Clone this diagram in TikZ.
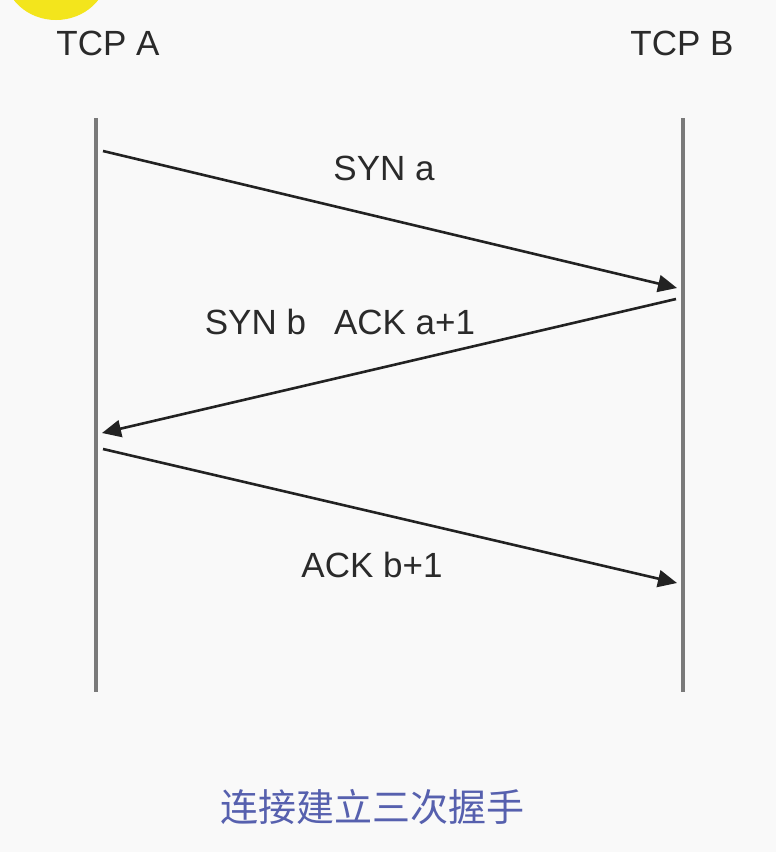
\documentclass[tikz,border=0pt]{standalone}
\usepackage{fontspec}
\setmainfont{Liberation Sans}
\newfontfamily\cjk{Noto Sans CJK SC}
\usetikzlibrary{arrows.meta}
\definecolor{bgc}{HTML}{F9F9F9}
\definecolor{lifec}{HTML}{7A7A7A}
\definecolor{msgc}{HTML}{222222}
\definecolor{yel}{HTML}{F3E51C}
\definecolor{capc}{HTML}{5660AE}
\definecolor{txtc}{HTML}{2A2A2A}
\tikzset{
  lifeline/.style={draw=lifec, line width=4pt},
  msg/.style={draw=msgc, line width=2.6pt, -{Triangle[length=19pt,width=17pt]}},
  lbl/.style={text=txtc, font=\fontsize{35}{38}\selectfont, inner sep=0pt},
}
\begin{document}
\begin{tikzpicture}[x=1pt,y=-1pt]
\fill[bgc] (0,0) rectangle (776,852);
\useasboundingbox (0,0) rectangle (776,852);
\begin{scope}
\clip (0,0) rectangle (776,852);
\fill[yel] (56,-28) ellipse [x radius=52, y radius=48];
\end{scope}
% headers
\node[lbl] (ta) at (108,43) {TCP A};
\node[lbl] (tb) at (682,43) {TCP B};
% lifelines
\coordinate (a0) at (96,118);
\coordinate (a1) at (96,692);
\coordinate (b0) at (683,118);
\coordinate (b1) at (683,692);
\draw[lifeline] (a0) -- (a1);
\draw[lifeline] (b0) -- (b1);
% message endpoints
\coordinate (m1s) at (103,151);
\coordinate (m1e) at (677,288);
\coordinate (m2s) at (676,299);
\coordinate (m2e) at (102,433);
\coordinate (m3s) at (103,449);
\coordinate (m3e) at (677,583);
\draw[msg] (m1s) -- (m1e);
\draw[msg] (m2s) -- (m2e);
\draw[msg] (m3s) -- (m3e);
% labels
\node[lbl] (l1) at (384,168) {SYN a};
\node[lbl] (l2) at (340,322) {SYN b\hspace{0.8em}ACK a+1};
\node[lbl] (l3) at (372,565) {ACK b+1};
% caption
\node[text=capc, font=\cjk\fontsize{38}{42}\selectfont, inner sep=0pt] (cap) at (372,807) {连接建立三次握手};
\end{tikzpicture}
\end{document}
